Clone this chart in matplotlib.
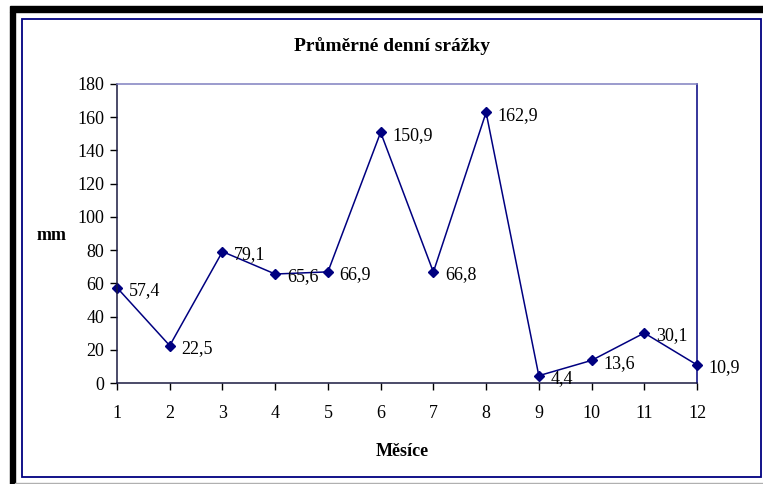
import numpy as np
import matplotlib.pyplot as plt
from matplotlib.patches import Rectangle

plt.rcParams['font.family'] = ['Liberation Serif', 'DejaVu Serif']

# prumerne denni srazky po mesicich
mesice = np.arange(1, 13)
srazky = [57.4, 22.5, 79.1, 65.6, 66.9, 150.9, 66.8, 162.9, 4.4, 13.6, 30.1, 10.9]
popisky = ["57,4", "22,5", "79,1", "65,6", "66,9", "150,9",
           "66,8", "162,9", "4,4", "13,6", "30,1", "10,9"]

W, H = 763, 484
fig = plt.figure(figsize=(W / 100, H / 100), dpi=100)
fig.patch.set_facecolor("white")

# ramecky kolem grafu
fig.patches.append(Rectangle((10 / W, 0), 5 / W, 1 - 12 / H, transform=fig.transFigure,
                             color="black", zorder=0))
fig.patches.append(Rectangle((10 / W, 1 - 12 / H), 1, 6 / H, transform=fig.transFigure,
                             color="black", zorder=0))
fig.patches.append(Rectangle((15 / W, 0), 1, 1.2 / H, transform=fig.transFigure,
                             color="#b0b0b0", zorder=0))
fig.patches.append(Rectangle((22 / W, 1 - 477 / H), 739 / W, 458 / H, transform=fig.transFigure,
                             fill=False, edgecolor="#000080", linewidth=1.3, zorder=1))

ax = fig.add_axes([117 / W, 1 - 383 / H, 580 / W, 299 / H])
ax.plot(mesice, srazky, color="#000080", linewidth=1.1, marker="D", markersize=5.5,
        markerfacecolor="#000080", markeredgecolor="#000080", clip_on=False)

for x, y, t in zip(mesice, srazky, popisky):
    ax.annotate(t, (x, y), xytext=(8.5, -2), textcoords="offset points",
                ha="left", va="center", fontsize=13)

ax.set_xlim(1, 12)
ax.set_ylim(0, 180)
ax.set_xticks(mesice)
ax.set_yticks(np.arange(0, 181, 20))
ax.tick_params(axis="both", labelsize=13, direction="out", length=5, width=1, pad=4)
ax.tick_params(axis="x", pad=11)

ax.spines["left"].set_color("#1a1a40")
ax.spines["bottom"].set_color("#1a1a40")
ax.spines["top"].set_color("#8080c0")
ax.spines["right"].set_color("#000080")
for s in ax.spines.values():
    s.set_linewidth(1.1)

fig.text(392 / W, 1 - 46 / H, "Průměrné denní srážky", ha="center", va="center",
         fontsize=14, fontweight="bold")
fig.text(402 / W, 1 - 452 / H, "Měsíce", ha="center", va="center",
         fontsize=13, fontweight="bold")
fig.text(52 / W, 1 - 235 / H, "mm", ha="center", va="center",
         fontsize=13, fontweight="bold")

fig.savefig("out.png", dpi=100)
